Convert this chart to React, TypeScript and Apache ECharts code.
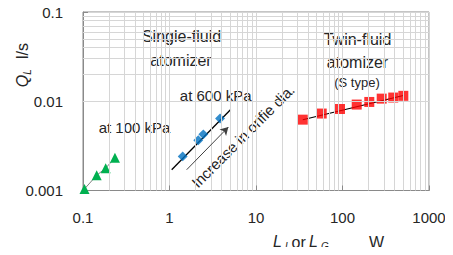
import React, { useEffect, useRef } from "react";
import * as echarts from "echarts";

const greenX = [0.104, 0.144, 0.183, 0.234];
const greenY = [0.00104, 0.00148, 0.00178, 0.00233];

const blueX = [1.42, 2.15, 2.46, 3.84];
const blueY = [0.00241, 0.00365, 0.00426, 0.0064];
const blueFitX = [1.06, 5.1];
const blueFitY = [0.00171, 0.00807];

const redX = [34.7, 57.5, 93.5, 146, 204, 284, 386, 505];
const redY = [0.00622, 0.00728, 0.00819, 0.00918, 0.00982, 0.0107, 0.011, 0.0115];
const redFitX = [34.7, 505];
const redFitY = [0.0062, 0.0116];

const arrowX = [1.58, 4.79];
const arrowY = [0.00171, 0.00514];

const xMinor = [0.2, 0.3, 0.4, 0.5, 0.6, 0.7, 0.8, 0.9, 2, 3, 4, 5, 6, 7, 8, 9, 20, 30, 40, 50, 60, 70, 80, 90, 200, 300, 400, 500, 600, 700, 800, 900];
const yMinor = [0.002, 0.003, 0.004, 0.005, 0.006, 0.007, 0.008, 0.009, 0.02, 0.03, 0.04, 0.05, 0.06, 0.07, 0.08, 0.09];

const FONT = "'Liberation Sans', Arial, sans-serif";
const TXT = "#262626";
const GRIDC = "#d6d6d6";
const AXISC = "#8a8a8a";

const zip = (a: number[], b: number[]) => a.map((v, i) => [v, b[i]]);
const fmt = (v: number) => String(parseFloat(Number(v).toPrecision(3)));

export default function App() {
  const ref = useRef<HTMLDivElement>(null);
  useEffect(() => {
    if (!ref.current) return;
    const chart = echarts.init(ref.current, undefined, { renderer: "svg" });
    const txt = (text: string, x: number, y: number, size: number, extra: any = {}, st: any = {}) => ({
      type: "text",
      x,
      y,
      silent: true,
      style: {
        text,
        fontFamily: FONT,
        fontSize: size,
        fill: TXT,
        align: "center",
        verticalAlign: "middle",
        ...st,
      },
      ...extra,
    });
    const rot = { rotation: Math.PI / 2 };
    const it = { fontStyle: "italic" };
    const itl = { fontStyle: "italic", align: "left" };
    chart.setOption({
      animation: false,
      grid: {
        left: 83,
        top: 12,
        width: 346,
        height: 178.5,
        show: true,
        borderColor: AXISC,
        borderWidth: 1,
        backgroundColor: "transparent",
      },
      xAxis: {
        type: "log",
        logBase: 10,
        min: 0.1,
        max: 1000,
        axisLine: { show: true, lineStyle: { color: AXISC } },
        axisTick: { show: true, inside: true, length: 5, lineStyle: { color: AXISC } },
        splitLine: { show: true, lineStyle: { color: GRIDC, width: 1 } },
        axisLabel: {
          margin: 19,
          fontFamily: FONT,
          fontSize: 15,
          color: TXT,
          showMinLabel: true,
          showMaxLabel: true,
          formatter: (v: number) => fmt(v),
        },
      },
      yAxis: {
        type: "log",
        logBase: 10,
        min: 0.001,
        max: 0.1,
        axisLine: { show: true, lineStyle: { color: AXISC } },
        axisTick: { show: true, inside: true, length: 5, lineStyle: { color: AXISC } },
        splitLine: { show: true, lineStyle: { color: GRIDC, width: 1 } },
        axisLabel: {
          margin: 20,
          fontFamily: FONT,
          fontSize: 15,
          color: TXT,
          showMinLabel: true,
          showMaxLabel: true,
          formatter: (v: number) => fmt(v),
        },
      },
      series: [
        {
          type: "line",
          data: [],
          silent: true,
          z: 1,
          markLine: {
            silent: true,
            symbol: ["none", "none"],
            label: { show: false },
            lineStyle: { color: GRIDC, width: 1, type: "solid" },
            emphasis: { disabled: true },
            data: [
              ...xMinor.map((v) => ({ xAxis: v })),
              ...yMinor.map((v) => ({ yAxis: v })),
            ],
          },
        },
        {
          type: "line",
          data: zip(greenX, greenY),
          symbol: "triangle",
          symbolSize: 10,
          itemStyle: { color: "#00b050" },
          lineStyle: { color: "#7f7f7f", width: 1 },
          z: 3,
        },
        {
          type: "line",
          data: zip(blueFitX, blueFitY),
          showSymbol: false,
          symbol: "none",
          lineStyle: { color: "#000", width: 1.3 },
          z: 3,
        },
        {
          type: "scatter",
          data: zip(blueX, blueY),
          symbol: "rect",
          symbolRotate: 45,
          symbolSize: 7,
          itemStyle: { color: "#0070c0" },
          z: 4,
        },
        {
          type: "line",
          data: zip(redFitX, redFitY),
          symbol: "none",
          lineStyle: { color: "#000", width: 1.2 },
          z: 3,
        },
        {
          type: "scatter",
          data: zip(redX, redY),
          symbol: "rect",
          symbolSize: 10,
          itemStyle: { color: "#ff0000" },
          z: 4,
        },
        {
          type: "line",
          data: [],
          silent: true,
          z: 3,
          markLine: {
            silent: true,
            symbol: ["none", "arrow"],
            symbolSize: [7, 8],
            label: { show: false },
            lineStyle: { color: "#404040", width: 1, type: "solid" },
            emphasis: { disabled: true },
            data: [[{ coord: [arrowX[0], arrowY[0]] }, { coord: [arrowX[1], arrowY[1]] }]],
          },
        },
      ],
      graphic: [
        txt("Single-fluid", 181.5, 36, 16),
        txt("atomizer", 181, 60, 16),
        txt("Twin-fluid", 357.5, 39, 16),
        txt("atomizer", 357.5, 62, 16),
        txt("(S type)", 357, 82, 13),
        txt("at 600 kPa", 215.7, 95, 15),
        txt("at 100 kPa", 134.5, 127, 15),
        txt("Increase in orifie dia.", 243, 136, 15, { rotation: Math.PI / 4 }),
        // y-axis title: Q_L  l/s (rotated)
        txt("Q", 22, 81, 16, rot, it),
        txt("L", 27, 72, 10, rot, it),
        txt("l/s", 22, 51, 16, rot),
        // x-axis title: L_L or L_G   W
        txt("L", 273, 241.5, 16, {}, itl),
        txt("L", 285, 246, 10, {}, itl),
        txt("or", 291.5, 242, 16, {}, { align: "left" }),
        txt("L", 309, 241.5, 16, {}, itl),
        txt("G", 321, 246, 10, {}, itl),
        txt("W", 376.5, 242, 16),
      ],
    });
    return () => chart.dispose();
  }, []);
  return <div ref={ref} style={{ width: 453, height: 255, margin: -8 }} />;
}
